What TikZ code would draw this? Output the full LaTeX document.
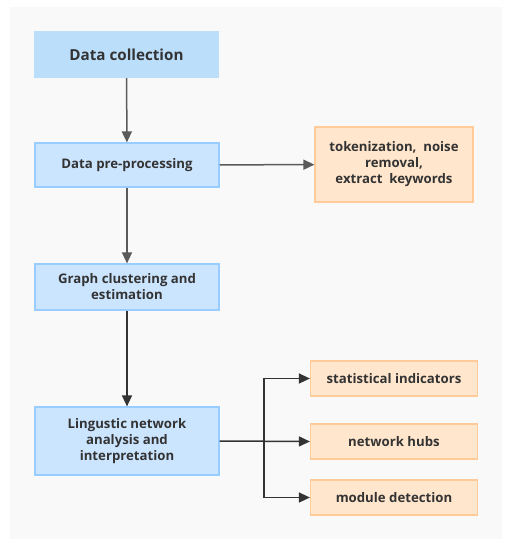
\documentclass[tikz,border=0pt]{standalone}
\usepackage{fontspec}
\setmainfont{Open Sans}[BoldFont={Open Sans Bold}]
\usetikzlibrary{arrows.meta}
\definecolor{bgc}{HTML}{F9F9F9}
\definecolor{bluefill}{HTML}{CCE5FF}
\definecolor{blueedge}{HTML}{99CCFF}
\definecolor{topfill}{HTML}{BBDEFB}
\definecolor{orfill}{HTML}{FFE6CC}
\definecolor{oredge}{HTML}{FFCC99}
\definecolor{txt}{HTML}{333333}
\definecolor{arr1}{HTML}{5A5A5A}
\definecolor{arr2}{HTML}{333333}
\tikzset{
  bluebox/.style={draw=blueedge, fill=bluefill, line width=1.2pt, minimum width=184pt, align=center, font=\bfseries\fontsize{13.2}{16}\selectfont, text=txt, inner sep=0pt},
  orbox/.style={draw=oredge, fill=orfill, line width=1.2pt, minimum width=167pt, minimum height=35pt, align=center, font=\bfseries\fontsize{13.2}{16}\selectfont, text=txt, inner sep=0pt},
  arrA/.style={draw=arr1, line width=1.5pt, -{Triangle[length=11pt,width=10pt]}},
  arrB/.style={draw=arr2, line width=1.5pt, -{Triangle[length=11pt,width=10pt]}},
}
\begin{document}
\begin{tikzpicture}[x=1pt,y=-1pt]
\useasboundingbox (0,0) rectangle (510,550);
\fill[white] (0,0) rectangle (510,550);
\fill[bgc] (10,7) rectangle (502,539);
\node[fill=topfill, minimum width=185pt, minimum height=47pt, inner sep=0pt, font=\bfseries\fontsize{15.2}{18}\selectfont, text=txt] (dc) at (126.5,54.5) {Data collection};
\node[bluebox, minimum height=44pt] (pp) at (127,165) {Data pre-processing};
\node[orbox, minimum width=158pt, minimum height=75pt] (tok) at (394,164.5) {tokenization,\ \ noise\\removal,\\extract\ \ keywords};
\node[bluebox, minimum height=46pt] (gc) at (127,287) {Graph clustering and\\estimation};
\node[bluebox, minimum height=68pt] (ln) at (127,441) {Lingustic network\\analysis and\\interpretation};
\node[orbox] (si) at (394,378.5) {statistical indicators};
\node[orbox] (nh) at (394,441.5) {network hubs};
\node[orbox] (md) at (394,497.5) {module detection};
\coordinate (br) at (264,441);
\draw[arrA] (dc) -- (pp);
\draw[arrA] (pp) -- (tok);
\draw[arrA] (pp) -- (gc);
\draw[arrB] (gc) -- (ln);
\draw[arrB] (ln.east) -- (nh.west);
\draw[arrB] (br) |- (si.west);
\draw[arrB] (br) |- (md.west);
\end{tikzpicture}
\end{document}
